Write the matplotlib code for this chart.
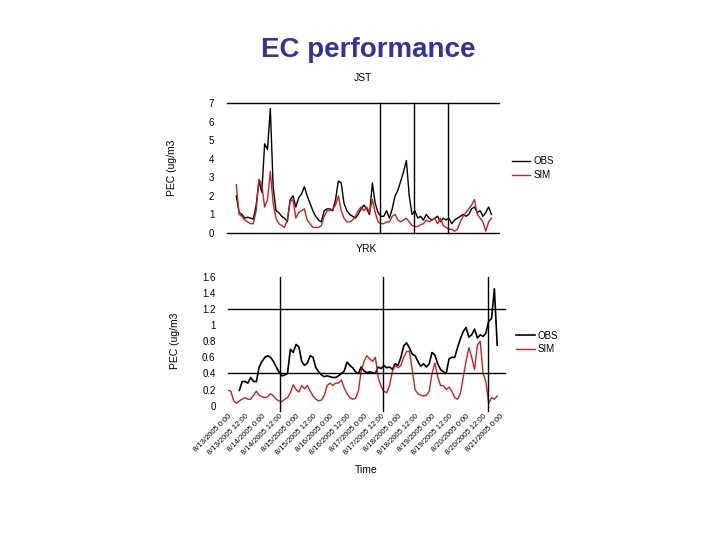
import numpy as np
import matplotlib
matplotlib.use("Agg")
import matplotlib.pyplot as plt

plt.rcParams['font.family'] = ['Liberation Sans', 'DejaVu Sans']

# hours since 8/13/2005 0:00, 2-hourly readings
hours_jst = list(range(6, 187, 2))
hours_yrk_obs = list(range(8, 191, 2))
hours_yrk_sim = list(range(0, 191, 2))

jst_obs = [2.0, 1.1, 1.0, 0.8, 0.85, 0.8, 0.75, 1.5, 2.8, 2.2,
           4.8, 4.5, 6.7, 2.5, 1.2, 1.1, 0.9, 0.8, 0.6, 1.8,
           2.0, 1.4, 1.9, 2.1, 2.5, 2.0, 1.6, 1.2, 0.9, 0.7,
           0.6, 1.2, 1.3, 1.3, 1.2, 1.8, 2.8, 2.7, 1.6, 1.2,
           1.0, 0.9, 0.8, 1.0, 1.3, 1.5, 1.3, 1.0, 2.7, 1.6,
           1.1, 0.9, 0.9, 1.2, 0.8, 1.3, 2.0, 2.3, 2.8, 3.3,
           3.9, 2.0, 1.0, 1.2, 0.8, 0.9, 0.7, 1.0, 0.8, 0.7,
           0.8, 0.9, 0.6, 0.8, 0.7, 0.8, 0.5, 0.7, 0.8, 0.9,
           1.0, 0.9, 1.0, 1.3, 1.4, 1.1, 1.2, 0.9, 1.1, 1.4,
           1.0]
jst_sim = [2.6, 1.0, 0.9, 0.7, 0.6, 0.5, 0.5, 1.2, 2.9, 2.6,
           1.4, 1.8, 3.3, 1.6, 0.8, 0.5, 0.4, 0.3, 0.7, 1.7,
           1.8, 0.8, 1.1, 1.2, 1.3, 0.7, 0.5, 0.3, 0.3, 0.3,
           0.4, 0.9, 1.2, 1.2, 1.3, 1.5, 2.0, 1.2, 0.8, 0.6,
           0.6, 0.7, 0.9, 1.2, 1.4, 1.2, 1.4, 1.1, 1.8, 1.1,
           0.6, 0.5, 0.5, 0.6, 0.6, 0.9, 1.0, 0.7, 0.6, 0.7,
           0.8, 0.6, 0.4, 0.35, 0.35, 0.45, 0.5, 0.7, 0.6, 0.7,
           0.8, 0.5, 0.8, 0.4, 0.3, 0.2, 0.2, 0.1, 0.2, 0.6,
           0.9, 1.1, 1.3, 1.5, 1.8, 1.0, 0.8, 0.6, 0.1, 0.6,
           0.8]

yrk_obs = [0.19, 0.3, 0.3, 0.28, 0.35, 0.3, 0.3, 0.48, 0.55, 0.6,
           0.62, 0.6, 0.55, 0.48, 0.42, 0.37, 0.38, 0.4, 0.7, 0.66,
           0.76, 0.73, 0.55, 0.5, 0.53, 0.62, 0.6, 0.47, 0.42, 0.38,
           0.36, 0.37, 0.36, 0.35, 0.35, 0.37, 0.4, 0.43, 0.54, 0.5,
           0.47, 0.42, 0.4, 0.48, 0.43, 0.41, 0.42, 0.41, 0.4, 0.48,
           0.46, 0.5, 0.47, 0.48, 0.45, 0.52, 0.5, 0.6, 0.74, 0.78,
           0.72, 0.64, 0.62, 0.55, 0.49, 0.52, 0.48, 0.52, 0.66, 0.63,
           0.52, 0.45, 0.42, 0.4, 0.58, 0.6, 0.6, 0.72, 0.83, 0.92,
           0.97, 0.85, 0.88, 0.95, 0.84, 0.88, 0.86, 0.9, 1.05, 1.08,
           1.45, 0.75]
yrk_sim = [0.19, 0.18, 0.06, 0.03, 0.06, 0.08, 0.1, 0.08, 0.08, 0.13,
           0.18, 0.13, 0.11, 0.1, 0.11, 0.15, 0.12, 0.08, 0.06, 0.05,
           0.08, 0.1, 0.16, 0.26, 0.2, 0.17, 0.25, 0.21, 0.25, 0.18,
           0.12, 0.08, 0.06, 0.07, 0.13, 0.25, 0.28, 0.25, 0.28, 0.28,
           0.32, 0.22, 0.15, 0.1, 0.08, 0.09, 0.18, 0.43, 0.55, 0.62,
           0.58, 0.55, 0.6, 0.35, 0.24, 0.18, 0.16, 0.25, 0.42, 0.5,
           0.47, 0.5, 0.6, 0.67, 0.68, 0.45, 0.2, 0.15, 0.13, 0.12,
           0.13, 0.18, 0.4, 0.53, 0.36, 0.25, 0.25, 0.2, 0.23, 0.18,
           0.1, 0.08, 0.15, 0.35, 0.55, 0.72, 0.6, 0.45, 0.75, 0.8,
           0.4, 0.3, 0.03, 0.1, 0.08, 0.12]

# vertical marker lines drawn on each panel (hours)
jst_marks = [107.3, 131.3, 155.3]
yrk_marks = [36.7, 109.4, 183.5]

tick_hours = list(range(0, 193, 12))
tick_labels = ["8/%d/2005 %s" % (13 + h // 24, "0:00" if h % 24 == 0 else "12:00")
               for h in tick_hours]

red = '#cc2020'


def style_axis(ax):
    for s in ax.spines.values():
        s.set_visible(False)
    ax.tick_params(length=0, labelsize=7, pad=9)


fig = plt.figure(figsize=(7.2, 5.4), dpi=100)
fig.text(0.511, 0.908, "EC performance", ha='center', va='center',
         fontsize=20, fontweight='bold', color='#333399')

# JST panel
ax1 = fig.add_axes([0.315, 0.5685, 0.378, 0.2407])
style_axis(ax1)
ax1.plot(hours_jst, jst_obs, color='black', lw=1.0, label='OBS')
ax1.plot(hours_jst, jst_sim, color=red, lw=1.0, label='SIM')
for v in [0, 7]:
    ax1.axhline(v, color='black', lw=1.0, clip_on=False)
for h in jst_marks:
    ax1.axvline(h, color='black', lw=1.0, clip_on=False)
ax1.set_xlim(-0.7, 191.3)
ax1.set_ylim(0, 7)
ax1.set_yticks(range(0, 8))
ax1.set_xticks([])
ax1.set_ylabel("PEC (ug/m3", fontsize=7.5, labelpad=23)
ax1.set_title("JST", fontsize=7.5, pad=16)
ax1.legend(loc='center left', bbox_to_anchor=(1.048, 0.5), frameon=False,
           fontsize=7, borderpad=0, borderaxespad=0, handlelength=1.9,
           handletextpad=0.3, labelspacing=0.4)

# YRK panel
ax2 = fig.add_axes([0.3167, 0.2487, 0.3847, 0.2389])
style_axis(ax2)
ax2.plot(hours_yrk_obs, yrk_obs, color='black', lw=1.2, label='OBS')
ax2.plot(hours_yrk_sim, yrk_sim, color=red, lw=1.0, label='SIM')
for v in [0.4, 1.2]:
    ax2.axhline(v, color='black', lw=1.0, clip_on=False)
for h in yrk_marks:
    ax2.axvline(h, ymin=-0.04, ymax=1.0, color='black', lw=1.0, clip_on=False)
ax2.set_xlim(0, 195.5)
ax2.set_ylim(0, 1.6)
yt = np.round(np.arange(0, 1.61, 0.2), 1)
ax2.set_yticks(yt)
ax2.set_yticklabels(["%g" % v for v in yt])
ax2.set_xticks(tick_hours)
ax2.set_xticklabels(tick_labels, rotation=45, ha='right', va='top',
                    rotation_mode='anchor', fontsize=5.5)
ax2.tick_params(axis='x', pad=5)
ax2.set_ylabel("PEC (ug/m3", fontsize=7.5, labelpad=16)
ax2.set_xlabel("Time", fontsize=7.5, labelpad=6)
ax2.set_title("YRK", fontsize=7.5, pad=18)
ax2.legend(loc='center left', bbox_to_anchor=(1.04, 0.49), frameon=False,
           fontsize=7, borderpad=0, borderaxespad=0, handlelength=1.9,
           handletextpad=0.3, labelspacing=0.4)

fig.savefig('out.png', dpi=100)
